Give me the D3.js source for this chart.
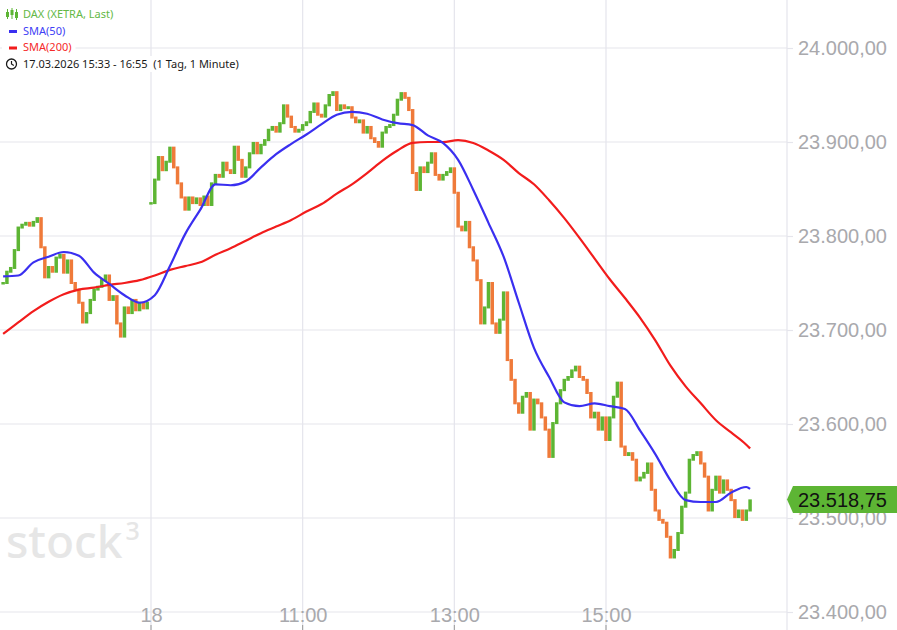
<!DOCTYPE html>
<html><head><meta charset="utf-8">
<script src="https://cdn.jsdelivr.net/npm/d3@7"></script>
<style>
html,body{margin:0;padding:0;background:#fff;}
svg{display:block;}
</style></head>
<body>
<svg id="chart" width="897" height="630"></svg>
<script>
// ---- DATA (3-minute closes) ----
// 17.03.2026, 15:33 .. 17:27
const day17Closes = [23750,23762,23766,23785,23809,23812,23814,23811,23815,23819,
  23788,23756,23767,23762,23777,23780,23761,23774,23750,23743,
  23729,23708,23718,23732,23743,23746,23753,23758,23732,23736,
  23707,23693,23724,23718,23732,23721,23729,23723,23729];
// 18.03.2026, 09:00 .. 16:54
const day18Closes = [23835,23860,23884,23870,23879,23894,23873,23856,23841,23828,
  23841,23835,23840,23833,23842,23833,23856,23865,23863,23878,
  23870,23867,23895,23881,23863,23873,23888,23899,23888,23897,
  23902,23913,23916,23911,23920,23939,23927,23916,23911,23913,
  23918,23921,23932,23941,23929,23927,23939,23950,23953,23934,
  23939,23936,23937,23926,23921,23923,23910,23916,23904,23900,
  23895,23910,23916,23918,23929,23945,23952,23947,23934,23867,
  23849,23873,23868,23878,23888,23865,23860,23865,23868,23872,
  23846,23810,23806,23815,23788,23774,23753,23707,23724,23750,
  23707,23697,23711,23740,23668,23647,23622,23612,23629,23633,
  23594,23626,23622,23607,23594,23565,23601,23622,23636,23647,
  23650,23657,23661,23650,23647,23633,23607,23612,23594,23607,
  23583,23607,23629,23644,23576,23567,23569,23562,23540,23543,
  23548,23558,23530,23508,23498,23495,23480,23458,23466,23484,
  23512,23527,23562,23567,23570,23558,23544,23508,23530,23544,
  23527,23540,23530,23519,23501,23508,23498,23508,23518.75];
// moving averages, every 12 minutes from 17.03 15:33 (last point 16:54)
const sma50 = [23757,23758,23772,23778,23783,23779,23761,23749,23737,23729,
  23737,23768,23802,23828,23855,23854,23858,23873,23887,23898,
  23908,23919,23929,23932,23930,23924,23920,23918,23907,23899,
  23881,23849,23814,23778,23729,23681,23650,23623,23619,23622,
  23619,23616,23593,23568,23540,23519,23517,23517,23527,23533,23531];
const sma200 = [23696,23708,23720,23730,23738,23743,23745,23748,23750,23753,
  23758,23764,23768,23772,23780,23787,23795,23803,23810,23817,
  23826,23834,23845,23855,23867,23880,23891,23899,23900,23900,
  23902,23899,23891,23881,23867,23855,23838,23819,23798,23776,
  23754,23734,23713,23689,23662,23640,23622,23604,23591,23578,23574];
const yTicks = [23400, 23500, 23600, 23700, 23800, 23900, 24000];
const xTickMinutes = [0, 120, 240, 360];
const xTickLabels = ["18", "11:00", "13:00", "15:00"];
const legendLabels = ["DAX (XETRA, Last)", "SMA(50)", "SMA(200)"];
const periodLabel = "17.03.2026 15:33 - 16:55  (1 Tag, 1 Minute)";
const lastPrice = day18Closes[day18Closes.length - 1];

// ---- CHART ----
const W = 897, H = 630;
const plotRight = 787;
const svg = d3.select("#chart");
const de = d3.formatLocale({decimal: ",", thousands: ".", grouping: [3], currency: ["", " €"]});
const fmt = de.format(",.2f");

// minutes relative to 18.03 09:00 (the evening of 17.03 is placed just before)
const x = d3.scaleLinear().domain([0, 360]).range([151, 606]);
const y = d3.scaleLinear().domain([23400, 24000]).range([612, 48]);

const gridColor = "#e5e5ec";
const axisTextColor = "#a9a9ad";
const green = "#5db534", orange = "#ef7a3a";

// watermark
const wm = svg.append("text").attr("x", 6).attr("y", 558)
  .attr("font-family", "Noto Sans, sans-serif").attr("font-weight", 500)
  .attr("font-size", 46).attr("fill", "#e6e6e6");
wm.append("tspan").text("stock");
wm.append("tspan").attr("dx", 3).attr("dy", -18).attr("font-size", 25).text("3");

// gridlines
svg.append("g").selectAll("line").data(yTicks).join("line")
  .attr("x1", 0).attr("x2", plotRight).attr("y1", d => y(d)).attr("y2", d => y(d))
  .attr("stroke", gridColor).attr("stroke-width", 1.2);
svg.append("g").selectAll("line").data(xTickMinutes).join("line")
  .attr("x1", d => x(d)).attr("x2", d => x(d)).attr("y1", 0).attr("y2", H)
  .attr("stroke", gridColor).attr("stroke-width", 1.2);
svg.append("g").selectAll("line").data(xTickMinutes).join("line")
  .attr("x1", d => x(d)).attr("x2", d => x(d)).attr("y1", 625).attr("y2", H)
  .attr("stroke", "#9a9a9a").attr("stroke-width", 1);
svg.append("line").attr("x1", plotRight).attr("x2", plotRight).attr("y1", 0).attr("y2", H)
  .attr("stroke", gridColor).attr("stroke-width", 1.2);

// y axis
const yAxis = d3.axisRight(y).tickValues(yTicks).tickSize(6).tickPadding(5).tickFormat(fmt);
const gy = svg.append("g").attr("transform", `translate(${plotRight},0)`).call(yAxis);
gy.select(".domain").remove();
gy.selectAll(".tick line").attr("stroke", gridColor).attr("stroke-width", 1.2);
gy.selectAll(".tick text").attr("fill", axisTextColor)
  .attr("font-family", "Liberation Sans, Arial, sans-serif").attr("font-size", 20);

// x axis
const xAxis = d3.axisBottom(x).tickValues(xTickMinutes).tickSize(0).tickPadding(0)
  .tickFormat((d, i) => xTickLabels[i]);
const gx = svg.append("g").attr("transform", "translate(0,615)").call(xAxis);
gx.select(".domain").remove();
gx.selectAll(".tick text").attr("fill", axisTextColor).attr("y", 0).attr("dy", "0.36em")
  .attr("font-family", "Liberation Sans, Arial, sans-serif").attr("font-size", 20);

// candles (3-minute bars, open = previous close within a session)
const bars = [];
day17Closes.forEach((c, i) => bars.push({m: -117 + 3 * i, o: i ? day17Closes[i - 1] : c, c}));
day18Closes.forEach((c, i) => bars.push({m: 3 * i, o: i ? day18Closes[i - 1] : c, c}));
const bw = (x(3) - x(0)) * 0.92;
svg.append("g").selectAll("rect").data(bars).join("rect")
  .attr("x", d => x(d.m) - bw / 2).attr("width", bw)
  .attr("y", d => y(Math.max(d.o, d.c)) - 1)
  .attr("height", d => Math.max(2.5, Math.abs(y(d.o) - y(d.c)) + 2))
  .attr("fill", d => d.c >= d.o ? green : orange);

// moving averages
const smaMinute = i => i < sma50.length - 1 ? -117 + 12 * i : 3 * (day18Closes.length - 1);
const line = d3.line().x((d, i) => x(smaMinute(i))).y(d => y(d)).curve(d3.curveMonotoneX);
svg.append("path").datum(sma200).attr("d", line).attr("fill", "none")
  .attr("stroke", "#f21c1c").attr("stroke-width", 2.2);
svg.append("path").datum(sma50).attr("d", line).attr("fill", "none")
  .attr("stroke", "#3a2ff0").attr("stroke-width", 2.2);

// last price tag
const ty = y(lastPrice) - 1;
svg.append("path")
  .attr("d", `M${plotRight},${ty} L${plotRight + 6},${ty - 13.5} L${W},${ty - 13.5} L${W},${ty + 13.5} L${plotRight + 6},${ty + 13.5} Z`)
  .attr("fill", green);
svg.append("text").attr("x", 798).attr("y", ty).attr("dy", "0.36em")
  .attr("font-family", "Liberation Sans, Arial, sans-serif").attr("font-size", 20)
  .attr("fill", "#111").text(fmt(lastPrice));

// legend
const lg = svg.append("g").attr("font-family", "Noto Sans, sans-serif").attr("font-size", 11);
const legendColors = ["#64b846", "#4040f5", "#f52a2a"];
const rowsY = [14, 31, 47.5, 64];
const rowTexts = legendLabels.concat([periodLabel]);
const rowColors = legendColors.concat(["#1a1a1a"]);
rowTexts.forEach((t, i) => {
  const bg = lg.append("rect").attr("fill", "#fff");
  const tx = lg.append("text").attr("x", 23).attr("y", rowsY[i]).attr("dy", "0.35em")
    .attr("fill", rowColors[i]).attr("xml:space", "preserve").style("white-space", "pre").text(t);
  const bb = tx.node().getBBox();
  bg.attr("x", 2).attr("y", rowsY[i] - 8).attr("width", bb.x + bb.width + 4 - 2).attr("height", 16);
});
[[7.5, 9, 19, 12, 17], [12, 8, 19, 10, 15], [16.5, 9, 20, 12, 18]].forEach(c => {
  lg.append("line").attr("x1", c[0]).attr("x2", c[0]).attr("y1", c[1]).attr("y2", c[2])
    .attr("stroke", green).attr("stroke-width", 1);
  lg.append("rect").attr("x", c[0] - 1.5).attr("width", 3).attr("y", c[3]).attr("height", c[4] - c[3])
    .attr("fill", green);
});
lg.append("rect").attr("x", 9).attr("y", 30).attr("width", 8).attr("height", 3).attr("fill", "#3a2ff0");
lg.append("rect").attr("x", 9).attr("y", 46.5).attr("width", 8).attr("height", 3).attr("fill", "#f21c1c");
lg.append("circle").attr("cx", 11.5).attr("cy", 64).attr("r", 5).attr("fill", "none")
  .attr("stroke", "#1a1a1a").attr("stroke-width", 1.3);
lg.append("path").attr("d", "M11.5,61 L11.5,64 L13.8,65.6").attr("fill", "none")
  .attr("stroke", "#1a1a1a").attr("stroke-width", 1.2);
</script>
</body></html>
